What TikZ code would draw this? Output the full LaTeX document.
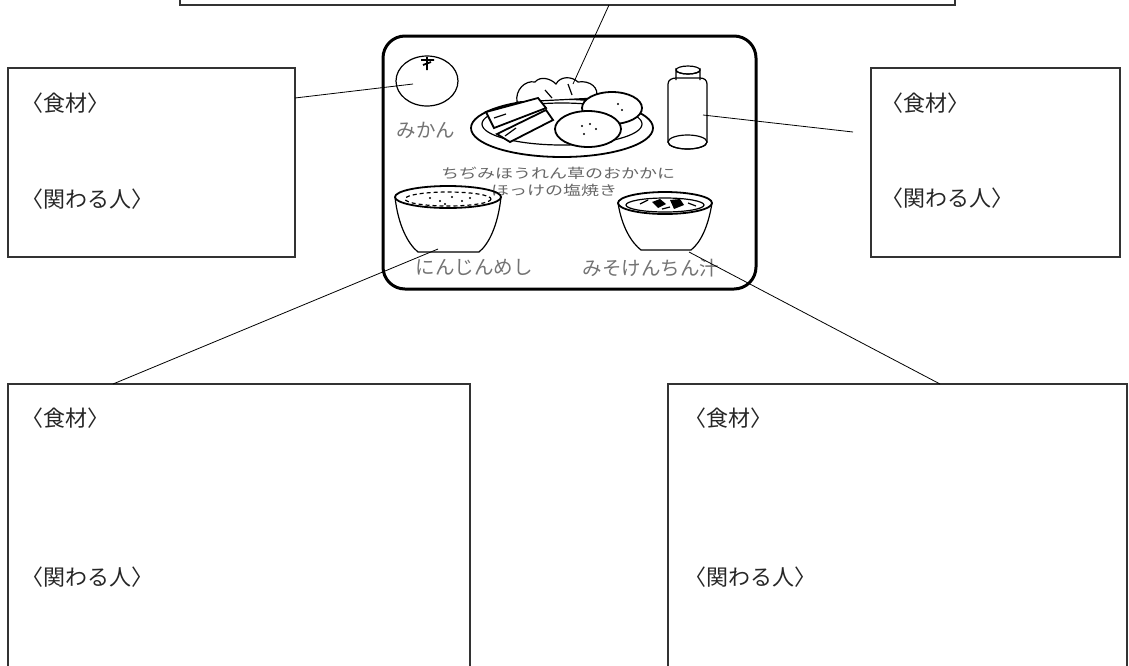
\documentclass[tikz,border=0pt]{standalone}
\usepackage{fontspec}
\newfontfamily\jp{Noto Sans CJK JP}
\newfontfamily\jphalt[RawFeature=+halt]{Noto Sans CJK JP}
\usetikzlibrary{calc,shapes.geometric}

\tikzset{
  card/.style={draw=black!80, line width=1.3pt, inner sep=0pt, outer sep=0pt, anchor=north west},
  tray/.style={draw=black, line width=3pt, rounded corners=22pt, inner sep=0pt, outer sep=0pt, anchor=north west},
  lbl/.style={anchor=west, inner sep=0pt, text=black!85, font=\jphalt\fontsize{22}{22}\selectfont},
  dishname/.style={inner sep=0pt, text=black!55, font=\jp\fontsize{19.5}{19.5}\selectfont},
  menuline/.style={inner sep=0pt, text=black!60, font=\jp\fontsize{18}{18}\selectfont},
  link/.style={draw=black, line width=0.8pt},
  food/.style={draw=black, line width=1.2pt},
  foodthick/.style={draw=black, line width=1.8pt},
}

\begin{document}
\begin{tikzpicture}[x=1pt, y=-1pt]
\useasboundingbox (0,0) rectangle (1129,665);
\clip (0,0) rectangle (1129,665);

% ---- worksheet boxes ----
\node[card, minimum width=775pt, minimum height=45pt] (top) at (180,-40) {};
\node[card, minimum width=287pt, minimum height=189pt] (tl) at (8,68) {};
\node[card, minimum width=249pt, minimum height=189pt] (tr) at (871,68) {};
\node[card, minimum width=462pt, minimum height=320pt] (bl) at (8,384) {};
\node[card, minimum width=459pt, minimum height=320pt] (br) at (668,384) {};

% ---- box prompts ----
\node[lbl] (tlfood) at (32,103) {〈食材〉};
\node[lbl] (tlpeople) at (32,199) {〈関わる人〉};
\node[lbl] (trfood) at (892,103) {〈食材〉};
\node[lbl] (trpeople) at (892,198) {〈関わる人〉};
\node[lbl] (blfood) at (32,418) {〈食材〉};
\node[lbl] (blpeople) at (32,577) {〈関わる人〉};
\node[lbl] (brfood) at (695,418) {〈食材〉};
\node[lbl] (brpeople) at (695,577) {〈関わる人〉};

% ---- lunch tray ----
\node[tray, minimum width=373pt, minimum height=253pt] (tray) at (383,36) {};

% orange
\draw[food] (427,81) ellipse [x radius=31, y radius=25];
\draw[foodthick] (427,57) -- (427,70) (421,60) -- (434,60) (423,65) -- (431,62);
\node[dishname] (mikan) at (426,130) {みかん};

% plate with spinach and grilled hokke
\draw[foodthick, fill=white] (562,128) ellipse [x radius=91, y radius=29];
\draw[food] (562,124) ellipse [x radius=80, y radius=21];
\draw[food, fill=white] (517,102) .. controls (515,90) and (525,80) .. (535,82)
  .. controls (540,76) and (550,78) .. (556,84) .. controls (560,76) and (572,76) .. (578,82)
  .. controls (590,80) and (600,88) .. (596,98) -- cycle;
\draw[food] (545,90) -- (552,98) (568,84) -- (572,95);
\draw[foodthick, fill=white] (612,108) ellipse [x radius=30, y radius=16];
\draw[foodthick, fill=white] (588,129) ellipse [x radius=33, y radius=18];
\draw[foodthick, fill=white] (486,112) -- (538,98) -- (546,108) -- (494,128) -- cycle;
\draw[foodthick, fill=white] (497,134) -- (546,110) -- (553,120) -- (510,142) -- cycle;
\draw[food] (494,118) -- (506,114) (505,136) -- (516,128);
\foreach \p in {(582,126),(590,124),(596,129),(584,134),(618,104),(622,110)}
  \fill \p circle (1.2);
\node[menuline] (menu1) at (558,173) {\scalebox{1}[0.75]{ちぢみほうれん草のおかかに}};
\node[menuline] (menu2) at (554,190) {\scalebox{1}[0.75]{ほっけの塩焼き}};

% bottle
\draw[food, fill=white] (676,80) -- (676,70) arc[start angle=180, end angle=0, x radius=12, y radius=4] -- (700,80);
\draw[food] (688,70) ellipse [x radius=12, y radius=4];
\draw[food] (668,84) .. controls (668,80) and (672,78) .. (676,78) -- (700,78)
  .. controls (704,78) and (707,80) .. (707,84) -- (707,142)
  arc[start angle=0, end angle=180, x radius=19.5, y radius=7] -- cycle;
\draw[food] (687.5,142) ellipse [x radius=19.5, y radius=7];

% rice bowl
\draw[food] (395,197) .. controls (398,225) and (408,244) .. (418,252)
  -- (479,252) .. controls (489,244) and (498,225) .. (501,197);
\draw[foodthick] (448,197) ellipse [x radius=53, y radius=11];
\draw[food, dash pattern=on 4pt off 3pt] (448,199) ellipse [x radius=43, y radius=7];
\foreach \p in {(430,198),(440,201),(452,197),(462,201),(470,198),(445,204)}
  \fill \p circle (1.2);
\coordinate (rice) at (438,249);
\node[dishname] (ninjin) at (474,267) {にんじんめし};

% miso soup bowl
\draw[food] (618,203) .. controls (622,228) and (632,243) .. (641,250)
  -- (691,250) .. controls (700,243) and (708,228) .. (712,203);
\draw[foodthick] (665,203) ellipse [x radius=47, y radius=11];
\draw[food] (665,205) ellipse [x radius=39, y radius=7];
\fill (652,202) -- (660,199) -- (666,204) -- (658,208) -- cycle;
\fill (670,200) -- (680,199) -- (684,205) -- (674,209) -- cycle;
\draw[food] (640,204) -- (648,200) (688,203) -- (696,206) (662,209) -- (670,207);
\coordinate (miso) at (689,252);
\node[dishname] (kenchin) at (651,268) {みそけんちん汁};

% ---- connectors ----
\coordinate (orange) at (413,84);
\coordinate (dish) at (573,84);
\coordinate (bottle) at (703,115);
\coordinate (bottleend) at (853,132);
\draw[link] ([yshift=-30pt]tl.north east) -- (orange);
\draw[link] ([xshift=429pt]top.south west) -- (dish);
\draw[link] (bottle) -- (bottleend);
\draw[link] ([xshift=105pt]bl.north west) -- (rice);
\draw[link] ([xshift=272pt]br.north west) -- (miso);
\end{tikzpicture}
\end{document}
